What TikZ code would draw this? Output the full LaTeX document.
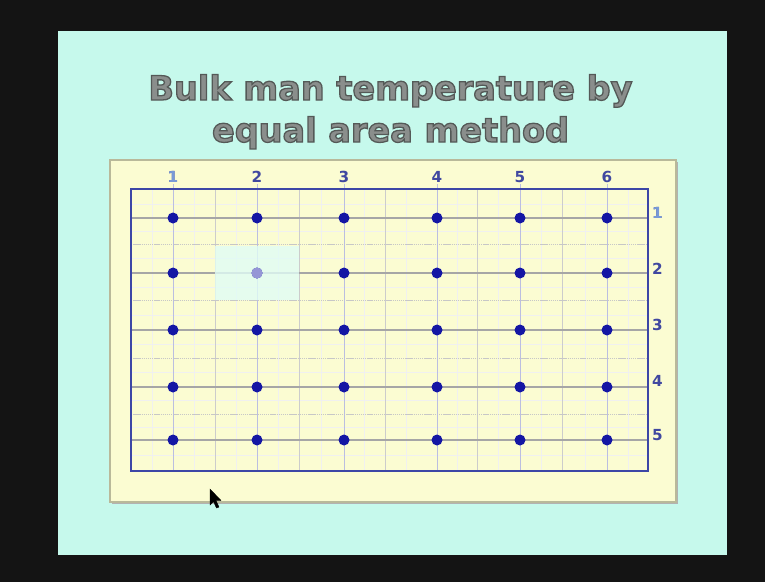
\documentclass[tikz,border=0pt]{standalone}
\usepackage{fontspec}
\setmainfont{DejaVu Sans}
\definecolor{slidebg}{HTML}{C6F9EC}
\definecolor{paper}{HTML}{FBFCD2}
\definecolor{paperline}{HTML}{B9B99A}
\definecolor{frameblue}{HTML}{3C46A6}
\definecolor{dotblue}{HTML}{1416A4}
\definecolor{labblue}{HTML}{4048A0}
\definecolor{titlegray}{HTML}{8A8E8C}
\newcommand\outlinedtitle[1]{\special{pdf:literal direct 0.33 0.35 0.34 RG 2 Tr 1.1 w}#1\special{pdf:literal direct 0 Tr}}
\begin{document}
\begin{tikzpicture}[x=0.03cm,y=-0.03cm,
    titletext/.style={font=\fontsize{28.6}{30}\selectfont\bfseries,text=titlegray,inner sep=0pt,anchor=base},
    dot/.style={circle,fill=dotblue,inner sep=0pt,minimum size=0.33cm},
    lab/.style={font=\fontsize{13}{13}\selectfont\bfseries,text=labblue,inner sep=0pt},
    rowline/.style={draw=black!35,line width=0.9pt},
    midline/.style={draw=black!22,line width=0.6pt,dash pattern=on 1.2pt off 0.6pt},
    colline/.style={draw=frameblue!35,line width=0.6pt},
    midcol/.style={draw=black!20,line width=0.5pt},
    fineline/.style={draw=black!6,line width=0.3pt}]
    % background
    \fill [black!92] (0,0) rectangle (765,582);
    \fill [slidebg] (58,31) rectangle (727,555);
    % title
    \node [titletext] (t1) at (390.5,100) {\outlinedtitle{Bulk man temperature by}};
    \node [titletext] (t2) at (390.5,142) {\outlinedtitle{equal area method}};
    % paper
    \fill [black!30] (112,162) rectangle (678,504);
    \filldraw [fill=paper,draw=paperline,line width=1pt] (110,160) rectangle (676,502);
    % fine grid
    \foreach \x in {152,194,236,278,321,364,406,457,498,541,585,628} \draw [fineline] (\x,189) -- (\x,471);
    \foreach \y in {204,231,258,287,315,344,372,400,427,455} \draw [fineline] (131,\y) -- (648,\y);
    % grid
    \foreach \x in {215,299,385,477,562} \draw [midcol] (\x,189) -- (\x,471);
    \foreach \y in {244,300,358,414} \draw [midline] (131,\y) -- (648,\y);
    \foreach \y in {218,273,330,387,440} \draw [rowline] (131,\y) -- (648,\y);
    \foreach \x in {173,257,344,437,520,607} \draw [colline] (\x,184) -- (\x,471);
    % marked cell
    \fill [slidebg!55!white,opacity=0.8] (215,246) rectangle (299,300);
    % frame
    \draw [frameblue,line width=2.5pt] (131,189) rectangle (648,471);
    % labels
    \foreach \x [count=\i] in {173,257,344,437,520,607} \node [lab] (c\i) at (\x,177) {\i};
    \foreach \y [count=\j] in {213,269,325,381,435} \node [lab,anchor=west] (r\j) at (652,\y) {\j};
    \node [lab,text=cyan!45!blue!55!white] at (c1) {1};
    \node [lab,anchor=west,text=cyan!45!blue!55!white] at (r1.west) {1};
    % points
    \foreach \x [count=\i] in {173,257,344,437,520,607}
        \foreach \y [count=\j] in {218,273,330,387,440}
            \node [dot] (d\i\j) at (\x,\y) {};
    \node [dot,fill=dotblue!45!white] at (d22) {};
    % pointer
    \filldraw [black,line width=0.3pt] (210,489) -- (210,505) -- (213.5,501.5) -- (216.5,508) -- (219,507) -- (216,500.5) -- (221,500.5) -- cycle;
\end{tikzpicture}
\end{document}
